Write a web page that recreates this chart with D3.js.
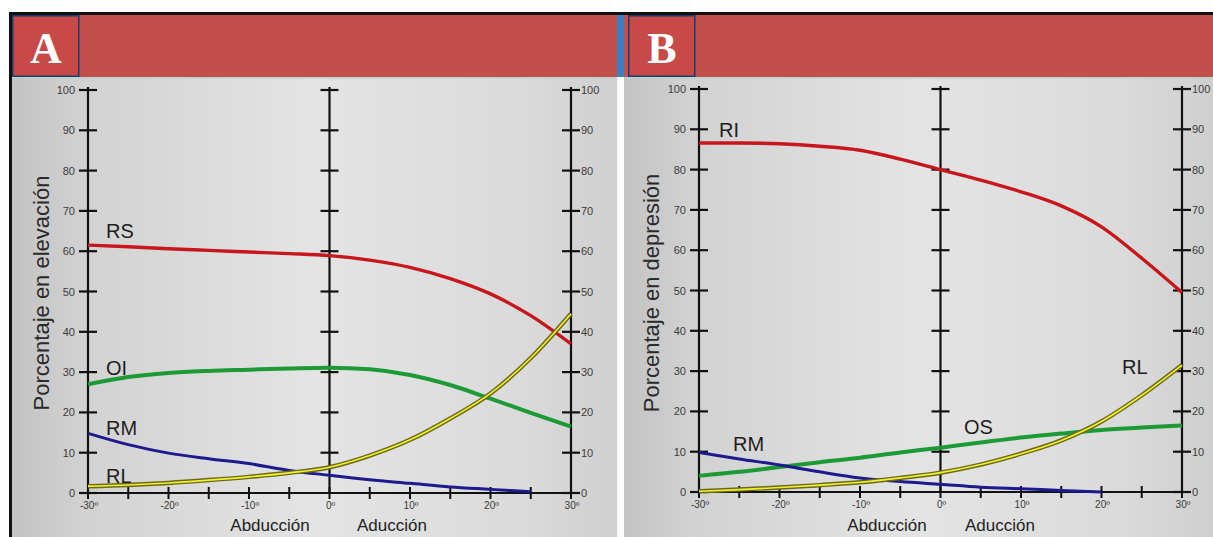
<!DOCTYPE html>
<html>
<head>
<meta charset="utf-8">
<script src="https://cdn.jsdelivr.net/npm/d3@7"></script>
<style>
  body { margin: 0; background: #fff; }
  svg { display: block; }
</style>
</head>
<body>
<script>
// grados de abduccion (-) / aduccion (+)
var degrees = [-30, -25, -20, -15, -10, -5, 0, 5, 10, 15, 20, 25, 30];
var xTickLabels = [-30, -20, -10, 0, 10, 20, 30];
var yTicks = [0, 10, 20, 30, 40, 50, 60, 70, 80, 90, 100];

// panel A - elevacion
var rsA = [61.5, 61.1, 60.6, 60.2, 59.8, 59.4, 58.9, 57.8, 56, 53.2, 49.4, 44, 37];
var oiA = [27, 28.8, 29.8, 30.3, 30.6, 30.9, 31.1, 30.7, 29.3, 26.8, 23.4, 19.9, 16.5];
var rmA = [14.8, 12, 9.9, 8.5, 7.3, 5.6, 4.4, 3.3, 2.4, 1.5, 0.9, 0.3, null];
var rlA = [1.7, 2, 2.5, 3.2, 4, 5, 6.4, 9.3, 13.2, 18.5, 24.7, 33.5, 44.5];

// panel B - depresion
var riB = [86.6, 86.6, 86.4, 85.8, 84.8, 82.6, 80, 77.4, 74.5, 71, 65.8, 58, 49.5];
var osB = [4, 5, 6.2, 7.4, 8.5, 9.8, 11, 12.3, 13.5, 14.5, 15.4, 16, 16.5];
var rmB = [9.8, 8.2, 6.7, 5, 3.5, 2.6, 1.9, 1.2, 0.8, 0.4, 0, null, null];
var rlB = [0.2, 0.6, 1.1, 1.7, 2.4, 3.5, 4.8, 6.8, 9.5, 12.8, 17.5, 24, 31.5];

var width = 1213, height = 537;
var svg = d3.select("body").append("svg")
    .attr("width", width)
    .attr("height", height);

var defs = svg.append("defs");
var grad = defs.append("linearGradient").attr("id", "bg")
    .attr("x1", "0%").attr("x2", "100%").attr("y1", "0%").attr("y2", "0%");
grad.append("stop").attr("offset", "0%").attr("stop-color", "#c3c3c3");
grad.append("stop").attr("offset", "12%").attr("stop-color", "#d2d2d2");
grad.append("stop").attr("offset", "50%").attr("stop-color", "#e4e4e4");
grad.append("stop").attr("offset", "85%").attr("stop-color", "#dadada");
grad.append("stop").attr("offset", "100%").attr("stop-color", "#cfcfcf");

var font = "'Liberation Sans', Arial, sans-serif";

//outer black border
svg.append("rect").attr("x", 9).attr("y", 12).attr("width", width - 9).attr("height", 3).attr("fill", "#111");
svg.append("rect").attr("x", 9).attr("y", 12).attr("width", 3).attr("height", height - 12).attr("fill", "#111");

function drawPanel(cfg) {
    var g = svg.append("g");

    // fondo
    g.append("rect").attr("x", cfg.x0).attr("y", 77).attr("width", cfg.x1 - cfg.x0).attr("height", height - 77)
        .attr("fill", "url(#bg)");
    g.append("line").attr("x1", cfg.x0).attr("x2", cfg.x1).attr("y1", 78).attr("y2", 78)
        .attr("stroke", "#b9d3cf").attr("stroke-width", 1.5);

    // cabecera roja
    g.append("rect").attr("x", cfg.x0).attr("y", 15).attr("width", cfg.x1 - cfg.x0).attr("height", 62)
        .attr("fill", "#c24f4b");
    g.append("rect").attr("x", cfg.bx + 0.75).attr("y", 15.75).attr("width", 66).attr("height", 60.5)
        .attr("fill", "#c84a48").attr("stroke", "#1c3a6a").attr("stroke-width", 1.5);
    g.append("text").attr("x", cfg.bx + 34).attr("y", 63)
        .attr("text-anchor", "middle")
        .style("font-family", "'Liberation Serif', 'Times New Roman', serif")
        .style("font-weight", "bold").style("font-size", "44px").style("fill", "#fff")
        .text(cfg.letter);

    var x = d3.scaleLinear().domain([-30, 30]).range([cfg.ax, cfg.ax + 483]);
    var y = d3.scaleLinear().domain([0, 100]).range([cfg.base, cfg.base - 403]);

    // ejes verticales
    [-30, 0, 30].forEach(function(d) {
        g.append("line").attr("x1", x(d)).attr("x2", x(d)).attr("y1", y(100) - 3).attr("y2", y(0))
            .attr("stroke", "#111").attr("stroke-width", 2.2);
        g.selectAll(null).data(yTicks.filter(t => t > 0 || d !== 0)).enter().append("line")
            .attr("x1", x(d) - 9).attr("x2", x(d) + 9)
            .attr("y1", t => y(t)).attr("y2", t => y(t))
            .attr("stroke", "#111").attr("stroke-width", 2.2);
    });

    // etiquetas eje y
    g.selectAll(null).data(yTicks).enter().append("text")
        .attr("x", x(-30) - 13).attr("y", t => y(t) + 4)
        .attr("text-anchor", "end")
        .style("font-family", font).style("font-size", "11px").style("fill", "#3a3a3a")
        .text(t => t);
    g.selectAll(null).data(yTicks).enter().append("text")
        .attr("x", x(30) + 10).attr("y", t => y(t) + 4)
        .attr("text-anchor", "start")
        .style("font-family", font).style("font-size", "11px").style("fill", "#3a3a3a")
        .text(t => t);

    // eje x
    g.append("line").attr("x1", x(-30)).attr("x2", x(30)).attr("y1", y(0)).attr("y2", y(0))
        .attr("stroke", "#111").attr("stroke-width", 2.2);
    g.selectAll(null).data(degrees).enter().append("line")
        .attr("x1", d => x(d)).attr("x2", d => x(d))
        .attr("y1", y(0) - 6).attr("y2", y(0) + 6)
        .attr("stroke", "#111").attr("stroke-width", 2);
    g.selectAll(null).data(xTickLabels).enter().append("text")
        .attr("x", d => x(d) + 1).attr("y", y(0) + 16)
        .attr("text-anchor", "middle")
        .style("font-family", font).style("font-size", "10px").style("fill", "#3a3a3a")
        .text(d => d + "º");

    g.append("text").attr("x", cfg.abdX).attr("y", 531).attr("text-anchor", "middle")
        .style("font-family", font).style("font-size", "17px").style("fill", "#222")
        .text("Abducción");
    g.append("text").attr("x", cfg.adX).attr("y", 531).attr("text-anchor", "middle")
        .style("font-family", font).style("font-size", "17px").style("fill", "#222")
        .text("Aducción");

    // titulo eje y
    g.append("text")
        .attr("transform", "translate(" + cfg.titleX + ",293) rotate(-90)")
        .attr("text-anchor", "middle")
        .style("font-family", font).style("font-size", "22px").style("fill", "#2a2a2a")
        .text(cfg.title);

    // curvas
    var line = d3.line()
        .defined(d => d[1] !== null)
        .x(d => x(d[0]))
        .y(d => y(d[1]))
        .curve(d3.curveMonotoneX);

    cfg.series.forEach(function(s) {
        var pts = degrees.map((d, i) => [d, s.values[i]]);
        if (s.outline) {
            g.append("path").attr("d", line(pts)).attr("fill", "none")
                .attr("stroke", s.outline).attr("stroke-width", 4.5);
            g.append("path").attr("d", line(pts)).attr("fill", "none")
                .attr("stroke", s.color).attr("stroke-width", 1.6);
        } else {
            g.append("path").attr("d", line(pts)).attr("fill", "none")
                .attr("stroke", s.color).attr("stroke-width", s.w);
        }
    });

    // nombres de los musculos
    g.selectAll(null).data(cfg.labels).enter().append("text")
        .attr("x", d => d.x).attr("y", d => d.y)
        .style("font-family", font).style("font-size", "20px").style("fill", "#1e1e1e")
        .text(d => d.t);
}

drawPanel({
    letter: "A", x0: 12, x1: 617, bx: 12, ax: 88, base: 493,
    abdX: 270, adX: 392, titleX: 49,
    title: "Porcentaje en elevación",
    series: [
        {values: rsA, color: "#c8161d", w: 3.4},
        {values: oiA, color: "#1d9a35", w: 4},
        {values: rmA, color: "#1c1a8e", w: 3},
        {values: rlA, color: "#f2f030", outline: "#6b6a1c"}
    ],
    labels: [
        {t: "RS", x: 106, y: 238},
        {t: "OI", x: 106, y: 375},
        {t: "RM", x: 106, y: 435},
        {t: "RL", x: 106, y: 483}
    ]
});

// separador azul / blanco
svg.append("rect").attr("x", 617).attr("y", 15).attr("width", 7).attr("height", 62).attr("fill", "#3d7fc0");
svg.append("rect").attr("x", 617).attr("y", 77).attr("width", 6).attr("height", height - 77).attr("fill", "#fbfbfb");

drawPanel({
    letter: "B", x0: 624, x1: 1213, bx: 628, ax: 699, base: 492,
    abdX: 887, adX: 1000, titleX: 659,
    title: "Porcentaje en depresión",
    series: [
        {values: riB, color: "#c8161d", w: 3.4},
        {values: osB, color: "#1d9a35", w: 4},
        {values: rmB, color: "#1c1a8e", w: 3},
        {values: rlB, color: "#f2f030", outline: "#6b6a1c"}
    ],
    labels: [
        {t: "RI", x: 719, y: 137},
        {t: "RM", x: 733, y: 451},
        {t: "OS", x: 964, y: 434},
        {t: "RL", x: 1122, y: 374}
    ]
});
</script>
</body>
</html>
